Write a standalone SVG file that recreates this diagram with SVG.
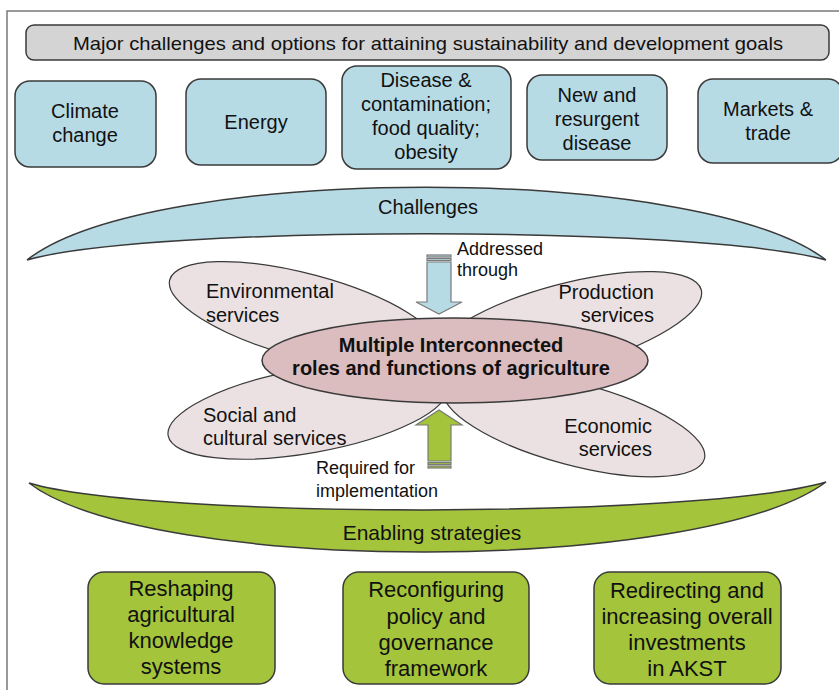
<svg xmlns="http://www.w3.org/2000/svg" width="839" height="690" viewBox="0 0 839 690">
<style>
text{font-family:"Liberation Sans",Arial,sans-serif;fill:#111;text-anchor:middle}
.box{stroke:#3a3a3a;stroke-width:1.5}
.blue{fill:#b7dbe5}
.green{fill:#a3c43b}
.petal{fill:#ebe1e2;stroke:#3a3a3a;stroke-width:1.2}
.t20{font-size:20px}
.t22{font-size:22px}
.t18{font-size:18px}
.arr{stroke:#7a7a7a;stroke-width:1.2}
</style>
<rect x="7" y="11" width="845" height="690" fill="#fff" stroke="#7a7a7a" stroke-width="1.5"/>

<g id="title">
<rect x="26" y="25" width="803" height="35" rx="8" fill="#d4d4d4" class="box"/>
<text x="428" y="50" font-size="19" textLength="710" lengthAdjust="spacingAndGlyphs">Major challenges and options for attaining sustainability and development goals</text>
</g>

<g id="climate">
<rect x="15" y="81" width="141" height="86" rx="15" class="box blue"/>
<text class="t20" x="85" y="118">Climate</text>
<text class="t20" x="85" y="142">change</text>
</g>
<g id="energy">
<rect x="186" y="79" width="140" height="86" rx="15" class="box blue"/>
<text class="t20" x="256" y="129">Energy</text>
</g>
<g id="disease">
<rect x="342" y="66" width="169" height="103" rx="15" class="box blue"/>
<text class="t20" x="426" y="87">Disease &amp;</text>
<text class="t20" x="426" y="111">contamination;</text>
<text class="t20" x="426" y="135">food quality;</text>
<text class="t20" x="426" y="159">obesity</text>
</g>
<g id="resurgent">
<rect x="527" y="75" width="140" height="85" rx="15" class="box blue"/>
<text class="t20" x="597" y="102">New and</text>
<text class="t20" x="597" y="126">resurgent</text>
<text class="t20" x="597" y="150">disease</text>
</g>
<g id="markets">
<rect x="698" y="79" width="145" height="84" rx="15" class="box blue"/>
<text class="t20" x="768" y="116">Markets &amp;</text>
<text class="t20" x="768" y="140">trade</text>
</g>

<g id="challenges">
<path d="M27,260 C150,163 700,163 826,260 C700,225 150,225 27,260 Z" class="box blue"/>
<text class="t20" x="428" y="214">Challenges</text>
</g>

<g id="environmental">
<ellipse cx="305" cy="316" rx="140" ry="42" transform="rotate(15 305 316)" class="petal"/>
<text class="t20" x="206" y="298" style="text-anchor:start">Environmental</text>
<text class="t20" x="206" y="322" style="text-anchor:start">services</text>
</g>
<g id="production">
<ellipse cx="566" cy="326" rx="140" ry="42" transform="rotate(-15 566 326)" class="petal"/>
<text class="t20" x="654" y="299" style="text-anchor:end">Production</text>
<text class="t20" x="654" y="322" style="text-anchor:end">services</text>
</g>
<g id="social">
<ellipse cx="308" cy="411" rx="142" ry="42" transform="rotate(-10 308 411)" class="petal"/>
<text class="t20" x="203" y="422" style="text-anchor:start">Social and</text>
<text class="t20" x="203" y="445" style="text-anchor:start">cultural services</text>
</g>
<g id="economic">
<ellipse cx="574" cy="424" rx="135" ry="41" transform="rotate(15 574 424)" class="petal"/>
<text class="t20" x="652" y="433" style="text-anchor:end">Economic</text>
<text class="t20" x="652" y="456" style="text-anchor:end">services</text>
</g>

<g id="roles">
<ellipse cx="455" cy="360.5" rx="193" ry="42.5" fill="#dbbdc0" class="box"/>
<text x="451" y="352" font-size="20" font-weight="bold">Multiple Interconnected</text>
<text x="451" y="375" font-size="20" font-weight="bold">roles and functions of agriculture</text>
</g>

<g id="connectors">
<g id="addressed">
<rect x="427" y="255" width="24" height="2" class="arr blue"/>
<rect x="427" y="258.5" width="24" height="2" class="arr blue"/>
<path d="M427,262 H451 V302 H462 L439,314 L416,302 H427 Z" class="arr blue"/>
<text class="t18" x="457" y="255" style="text-anchor:start">Addressed</text>
<text class="t18" x="457" y="276" style="text-anchor:start">through</text>
</g>
<g id="required">
<path d="M428,461 V425 H416 L439,410 L462,425 H451 V461 Z" class="arr green"/>
<rect x="428" y="462.5" width="23" height="2" class="arr green"/>
<rect x="428" y="466" width="23" height="2" class="arr green"/>
<text class="t18" x="316" y="474" style="text-anchor:start">Required for</text>
<text class="t18" x="316" y="497" style="text-anchor:start">implementation</text>
</g>
</g>

<g id="enabling">
<path d="M29,483 C150,519 700,519 826,482 C700,575 150,575 29,483 Z" class="box green"/>
<text x="432" y="540" font-size="21">Enabling strategies</text>
</g>

<g id="reshaping">
<rect x="88" y="572" width="187" height="112" rx="16" class="box green"/>
<text class="t22" x="181" y="596">Reshaping</text>
<text class="t22" x="181" y="622">agricultural</text>
<text class="t22" x="181" y="648">knowledge</text>
<text class="t22" x="181" y="674">systems</text>
</g>
<g id="reconfiguring">
<rect x="343" y="572" width="186" height="112" rx="16" class="box green"/>
<text class="t22" x="436" y="597">Reconfiguring</text>
<text class="t22" x="436" y="624">policy and</text>
<text class="t22" x="436" y="650">governance</text>
<text class="t22" x="436" y="676">framework</text>
</g>
<g id="redirecting">
<rect x="594" y="572" width="187" height="112" rx="16" class="box green"/>
<text class="t22" x="687" y="598">Redirecting and</text>
<text class="t22" x="687" y="624">increasing overall</text>
<text class="t22" x="687" y="650">investments</text>
<text class="t22" x="687" y="676">in AKST</text>
</g>
</svg>
